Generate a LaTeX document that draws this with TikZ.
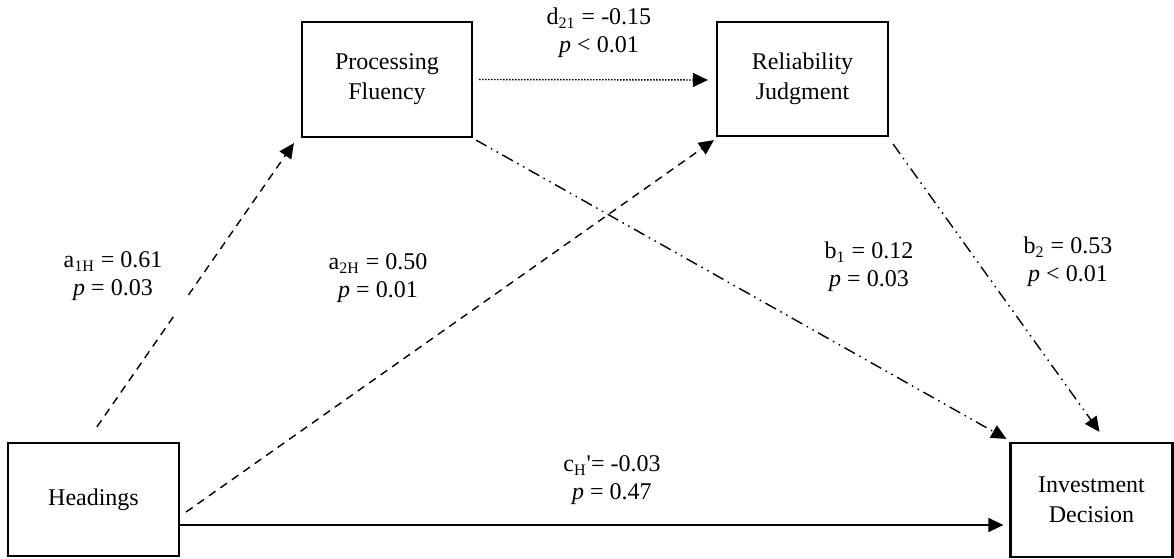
\documentclass[tikz,border=0pt]{standalone}
\usepackage{fontspec}
\setmainfont{Liberation Serif}
\usetikzlibrary{arrows.meta,calc}
\begin{document}
\begin{tikzpicture}[x=0.5pt,y=0.5pt,
  box/.style={draw,line width=1.1pt,inner sep=0pt,align=center,font=\fontsize{12}{15}\selectfont},
  lab/.style={align=center,inner sep=0pt,font=\fontsize{12}{14}\selectfont},
  arr/.style={line width=0.7pt,-{Triangle[length=7.5pt,width=7pt]}},
  seg/.style={line width=0.7pt},
  dashA/.style={dash pattern=on 4pt off 3pt},
  dotA/.style={dash pattern=on 0.7pt off 0.8pt},
  ddot/.style={dash pattern=on 6pt off 2.5pt on 0.8pt off 2.5pt on 0.8pt off 2.5pt}]
\useasboundingbox (0,0) rectangle (1174,558);
% boxes
\node[box,minimum width=85.5pt,minimum height=56.5pt] (H) at (93.5,58.5) {Headings};
\node[box,minimum width=85pt,minimum height=57.5pt] (PF) at (387,478.5) {Processing\\Fluency};
\node[box,minimum width=85.5pt,minimum height=57pt] (RJ) at (802.5,479) {Reliability\\Judgment};
\node[box,minimum width=81pt,minimum height=57pt] (ID) at (1091.5,58) {Investment\\Decision};
% labels
\node[lab] (ld) at (599,525) {d\textsubscript{21} = -0.15\\\textit{p} < 0.01};
\node[lab] (la1) at (113,282) {a\textsubscript{1H} = 0.61\\\textit{p} = 0.03};
\node[lab] (la2) at (378,280) {a\textsubscript{2H} = 0.50\\\textit{p} = 0.01};
\node[lab] (lb1) at (869,291) {b\textsubscript{1} = 0.12\\\textit{p} = 0.03};
\node[lab] (lb2) at (1068,296) {b\textsubscript{2} = 0.53\\\textit{p} < 0.01};
\node[lab] (lc) at (612,78) {c\textsubscript{H}\textquotesingle= -0.03\\\textit{p} = 0.47};
% a1H (with a small gap)
\coordinate (a1s) at ([shift={(90,15)}]H.north west);
\coordinate (a1e) at ([shift={(-7,-5)}]PF.south west);
\draw[seg,dashA] (a1s) -- ($(a1s)!0.395!(a1e)$);
\draw[arr,dashA] ($(a1s)!0.465!(a1e)$) -- (a1e);
% a2H
\draw[arr,dashA] ([shift={(6,-12.5)}]H.east) -- ([shift={(-2,-3)}]RJ.south west);
% d21
\draw[arr,dotA] ([shift={(6,0)}]PF.east) -- ([shift={(-8,-1)}]RJ.west);
% b1
\draw[arr,ddot] ([shift={(3,-2)}]PF.south east) -- ([shift={(-3,3)}]ID.north west);
% b2
\draw[arr,ddot] ([shift={(4,-7)}]RJ.south east) -- ([shift={(8,10)}]ID.north);
% c'
\draw[arr] ([shift={(0,-25.5)}]H.east) -- ([shift={(-6,-25)}]ID.west);
\end{tikzpicture}
\end{document}
